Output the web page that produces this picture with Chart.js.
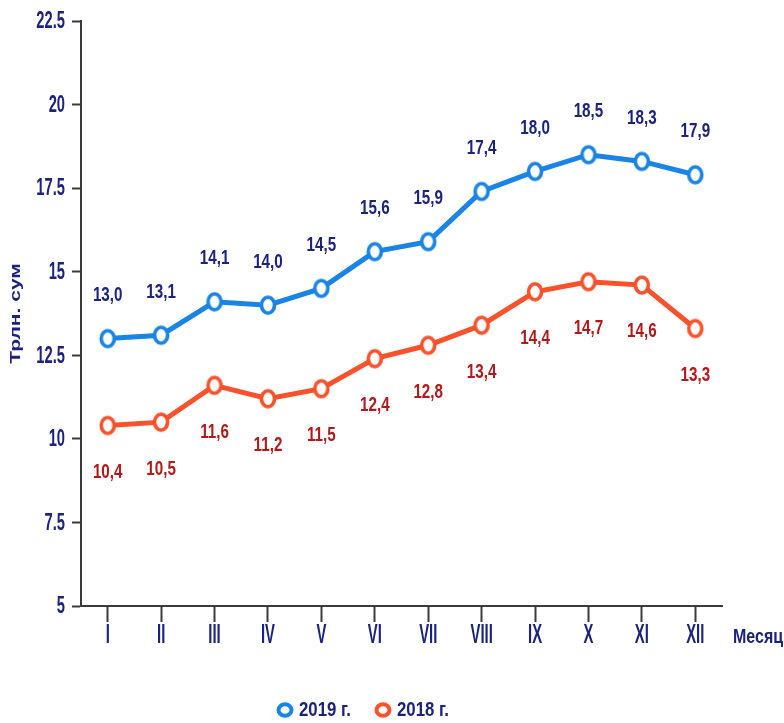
<!DOCTYPE html>
<html>
<head>
<meta charset="utf-8">
<script src="https://cdn.jsdelivr.net/npm/chart.js@4.4.0/dist/chart.umd.min.js"></script>
<style>
    html, body { margin: 0; padding: 0; background: #fff; }
    #wrap { width: 784px; height: 723px; }
</style>
</head>
<body>
<div id="wrap"><canvas id="grafikPostuplenij"></canvas></div>
<script>
// Месячные данные, трлн. сум
const mesyacy = ['I', 'II', 'III', 'IV', 'V', 'VI', 'VII', 'VIII', 'IX', 'X', 'XI', 'XII'];
const znach2019 = [13.0, 13.1, 14.1, 14.0, 14.5, 15.6, 15.9, 17.4, 18.0, 18.5, 18.3, 17.9];
const znach2018 = [10.4, 10.5, 11.6, 11.2, 11.5, 12.4, 12.8, 13.4, 14.4, 14.7, 14.6, 13.3];
const yTicks = [5, 7.5, 10, 12.5, 15, 17.5, 20, 22.5];

const SHRIFT = "'Liberation Sans', Arial, sans-serif";
const NAVY = '#1c237e';
const SINIY = '#1a84e6';
const ORANZH = '#f7522b';

// узкий жирный текст (сжатие по горизонтали)
function pishi(ctx, txt, x, y, size, sx, color, align, rot) {
    ctx.save();
    ctx.translate(x, y);
    if (rot) ctx.rotate(rot);
    if (rot) ctx.scale(1, sx); else ctx.scale(sx, 1);
    ctx.font = 'bold ' + size + 'px ' + SHRIFT;
    ctx.fillStyle = color;
    ctx.textAlign = align || 'center';
    ctx.textBaseline = 'middle';
    ctx.fillText(txt, 0, 0);
    ctx.restore();
}

// точка-эллипс (как на исходнике)
function tochka(color) {
    const c = document.createElement('canvas');
    c.width = 20; c.height = 24;
    const g = c.getContext('2d');
    g.beginPath();
    g.ellipse(10, 12, 6.5, 8, 0, 0, Math.PI * 2);
    g.fillStyle = '#fff';
    g.fill();
    g.lineWidth = 3.6;
    g.strokeStyle = color;
    g.stroke();
    return c;
}

// подписи осей
const podpisiOsej = {
    id: 'podpisiOsej',
    afterDraw(chart) {
        const ctx = chart.ctx;
        const sx = chart.scales.x, sy = chart.scales.y;
        sy.ticks.forEach(function (t) {
            pishi(ctx, String(t.value), sy.right - 16, sy.getPixelForValue(t.value) + 1, 23, 0.64, NAVY, 'right');
        });
        sx.ticks.forEach(function (t, i) {
            pishi(ctx, sx.getLabelForValue(t.value), sx.getPixelForTick(i), sx.top + 30, 27, 0.55, NAVY, 'center');
        });
        pishi(ctx, 'Трлн. сум', 16, (chart.chartArea.top + chart.chartArea.bottom) / 2, 21, 0.72, NAVY, 'center', -Math.PI / 2);
        pishi(ctx, 'Месяц', chart.chartArea.right + 11, 637, 20, 0.8, NAVY, 'left');
    }
};

// подписи значений над/под точками
const podpisi = {
    id: 'podpisi',
    afterDatasetsDraw(chart) {
        const ctx = chart.ctx;
        chart.data.datasets.forEach(function (ds, i) {
            const meta = chart.getDatasetMeta(i);
            meta.data.forEach(function (pt, j) {
                const txt = ds.data[j].toFixed(1).replace('.', ',');
                pishi(ctx, txt, pt.x, pt.y + ds.labelShift, 19.5, 0.78, ds.labelColor, 'center');
            });
        });
    }
};

// легенда снизу
const legendaNiz = {
    id: 'legendaNiz',
    afterDraw(chart) {
        const ctx = chart.ctx;
        let x = 285;
        chart.data.datasets.forEach(function (ds) {
            ctx.save();
            ctx.beginPath();
            ctx.ellipse(x, 710, 6.5, 5.8, 0, 0, Math.PI * 2);
            ctx.fillStyle = '#fff';
            ctx.fill();
            ctx.lineWidth = 4;
            ctx.strokeStyle = ds.borderColor;
            ctx.stroke();
            ctx.restore();
            pishi(ctx, ds.label, x + 14, 710, 21, 0.8, NAVY, 'left');
            x += 98;
        });
    }
};

const ctx = document.getElementById('grafikPostuplenij').getContext('2d');
new Chart(ctx, {
    type: 'line',
    data: {
        labels: mesyacy,
        datasets: [{
            label: '2019 г.',
            data: znach2019,
            borderColor: SINIY,
            backgroundColor: '#fff',
            borderWidth: 5,
            pointStyle: tochka(SINIY),
            pointRadius: 8,
            pointHoverRadius: 8,
            labelColor: NAVY,
            labelShift: -43
        }, {
            label: '2018 г.',
            data: znach2018,
            borderColor: ORANZH,
            backgroundColor: '#fff',
            borderWidth: 5,
            pointStyle: tochka(ORANZH),
            pointRadius: 8,
            pointHoverRadius: 8,
            labelColor: '#b3191b',
            labelShift: 47
        }]
    },
    options: {
        responsive: true,
        maintainAspectRatio: false,
        animation: false,
        layout: {
            padding: { left: 0, right: 62, top: 21, bottom: 0 }
        },
        plugins: {
            legend: { display: false },
            tooltip: { enabled: false }
        },
        scales: {
            x: {
                offset: true,
                grid: {
                    offset: false,
                    drawOnChartArea: false,
                    drawTicks: true,
                    tickLength: 16,
                    tickWidth: 2,
                    tickColor: '#3a3a3a'
                },
                border: { display: true, color: '#3a3a3a', width: 2 },
                ticks: { display: false },
                afterFit: function (scale) { scale.height = 117; }
            },
            y: {
                min: 5,
                max: 22.5,
                afterBuildTicks: function (scale) {
                    scale.ticks = yTicks.map(function (v) { return { value: v }; });
                },
                grid: {
                    drawOnChartArea: false,
                    drawTicks: true,
                    tickLength: 9,
                    tickWidth: 2,
                    tickColor: '#3a3a3a'
                },
                border: { display: true, color: '#3a3a3a', width: 2 },
                ticks: { display: false },
                afterFit: function (scale) { scale.width = 81; }
            }
        }
    },
    plugins: [podpisi, podpisiOsej, legendaNiz]
});
</script>
</body>
</html>
